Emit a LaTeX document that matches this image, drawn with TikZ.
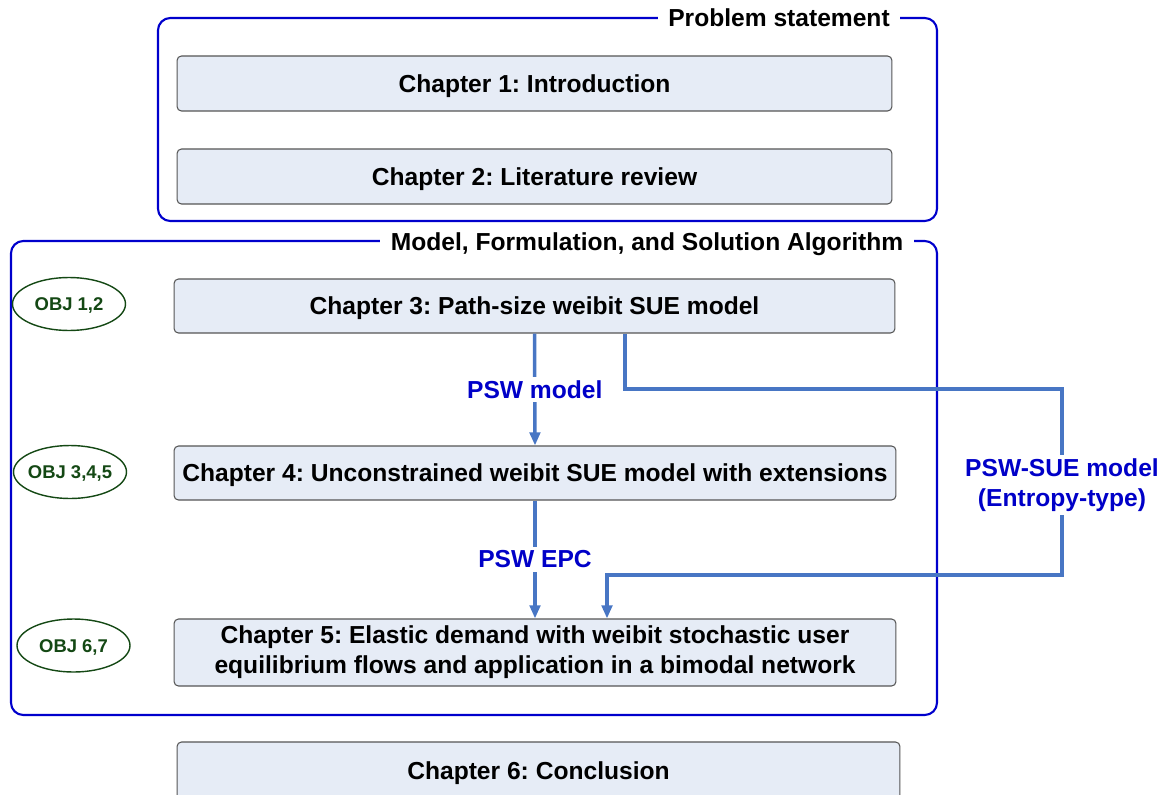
\documentclass[tikz,border=0pt]{standalone}
\usepackage{fontspec}
\setmainfont{Liberation Sans}
\frenchspacing
\usetikzlibrary{arrows.meta,shapes.geometric}
\definecolor{framebl}{RGB}{0,0,204}
\definecolor{labelbl}{RGB}{0,0,200}
\definecolor{arrowbl}{RGB}{72,118,196}
\definecolor{chapfill}{RGB}{230,236,246}
\definecolor{chapline}{RGB}{85,85,85}
\definecolor{objgreen}{RGB}{20,72,20}
\tikzset{
  frame/.style={draw=framebl, line width=1.2pt, rounded corners=7pt},
  frametitle/.style={fill=white, font=\bfseries\fontsize{14}{16}\selectfont, inner xsep=6pt, inner ysep=2pt},
  chapter/.style={draw=chapline, fill=chapfill, line width=0.6pt, rounded corners=2.5pt,
    font=\bfseries\fontsize{14}{17}\selectfont, align=center, inner sep=0pt},
  oneline/.style={text height=10pt, text depth=0pt},
  obj/.style={ellipse, draw=objgreen, line width=0.8pt, text=objgreen, inner xsep=-2pt, inner ysep=0pt,
    minimum width=2.26cm, minimum height=1.06cm, font=\bfseries\fontsize{10.5}{12}\selectfont,
    text height=7.5pt, text depth=0pt},
  flow/.style={draw=arrowbl, line width=2pt, -{Triangle[width=6pt,length=7.5pt]}},
  flowlabel/.style={fill=white, text=labelbl, font=\bfseries\fontsize{14}{17}\selectfont, align=center, inner sep=2pt}
}
\begin{document}
\begin{tikzpicture}[x=0.02cm, y=-0.02cm]
\useasboundingbox (0,0) rectangle (1168,794);

% group frames
\draw[frame] (158,18) rectangle (937,221);
\node[frametitle] (t1) at (779,18) {Problem statement};
\draw[frame] (11,241) rectangle (937,715);
\node[frametitle] (t2) at (647,244) {Model, Formulation, and Solution Algorithm};

% chapters
\node[chapter, oneline, minimum width=14.30cm, minimum height=1.10cm] (ch1) at (534.5,83.5) {Chapter 1: Introduction};
\node[chapter, oneline, minimum width=14.30cm, minimum height=1.10cm] (ch2) at (534.5,176.5) {Chapter 2: Literature review};
\node[chapter, oneline, minimum width=14.42cm, minimum height=1.08cm] (ch3) at (534.5,306) {Chapter 3: Path-size weibit SUE model};
\node[chapter, oneline, minimum width=14.44cm, minimum height=1.08cm] (ch4) at (535,473) {Chapter 4: Unconstrained weibit SUE model with extensions};
\node[chapter, minimum width=14.44cm, minimum height=1.34cm] (ch5) at (535,652.5) {Chapter 5: Elastic demand with weibit stochastic user\\equilibrium flows and application in a bimodal network};
\node[chapter, oneline, minimum width=14.46cm, minimum height=1.16cm] (ch6) at (538.5,771) {Chapter 6: Conclusion};

% objectives
\node[obj] (o1) at (69,304) {OBJ 1,2};
\node[obj] (o2) at (70,472) {OBJ 3,4,5};
\node[obj] (o3) at (73.5,645.5) {OBJ 6,7};

% flows between chapters
\draw[flow] (ch3.south) -- node[flowlabel] (l1) {PSW model} (ch4.north);
\draw[flow] (ch4.south) -- node[flowlabel] (l2) {PSW EPC} (ch5.north);

\coordinate (c1) at (625,389);
\coordinate (c2) at (1062,389);
\coordinate (c3) at (1062,575);
\coordinate (c4) at (607,575);
\draw[flow] (ch3.south -| c1) -- (c1) -- (c2) -- (c3) -- (c4) -- (ch5.north -| c4);
\node[flowlabel] (l3) at (1062,485) {PSW-SUE model\\(Entropy-type)};
\end{tikzpicture}
\end{document}
